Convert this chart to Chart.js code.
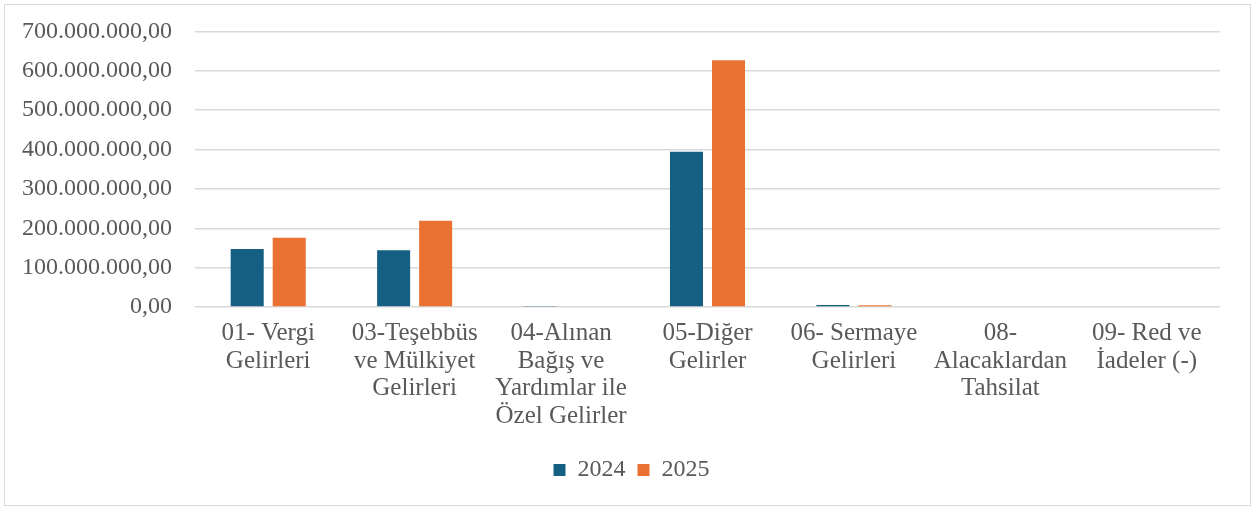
<!DOCTYPE html>
<html>
<head>
<meta charset="utf-8">
<script src="https://cdn.jsdelivr.net/npm/chart.js@4.4.1/dist/chart.umd.min.js"></script>
<style>
  html, body { margin: 0; padding: 0; background: #fff; overflow: hidden; }
  #cerceve {
    position: absolute; left: 4px; top: 4px;
    width: 1245px; height: 500px;
    border: 1px solid #d9d9d9;
  }
  #kutu {
    position: absolute; left: 5px; top: -6px;
    width: 1245px; height: 511px;
  }
</style>
</head>
<body>
<div id="cerceve"></div>
<div id="kutu"><canvas id="grafik"></canvas></div>
<script>
// Kategoriler (satır satır)
const kategoriler = [
  ["01- Vergi", "Gelirleri"],
  ["03-Teşebbüs", "ve Mülkiyet", "Gelirleri"],
  ["04-Alınan", "Bağış ve", "Yardımlar ile", "Özel Gelirler"],
  ["05-Diğer", "Gelirler"],
  ["06- Sermaye", "Gelirleri"],
  ["08-", "Alacaklardan", "Tahsilat"],
  ["09- Red ve", "İadeler (-)"]
];

// Seriler
const yillar = ["2024", "2025"];
const degerler2024 = [147600000, 144000000, 1500000, 394500000, 5000000, 0, 0];
const degerler2025 = [175600000, 219000000, 0, 627000000, 4500000, 0, 0];

// Eksen
const yMaks = 700000000;
const yAdim = 100000000;

// 700000000 -> "700.000.000,00"
function bicimle(v) {
  const tam = Math.round(v).toString().replace(/\B(?=(\d{3})+(?!\d))/g, ".");
  return tam + ",00";
}

const yazi = "'Liberation Serif', 'Times New Roman', serif";
const gri = "#595959";

// legend'i grafiğin ortasına biraz kaydır
const legendKaydir = {
  id: 'legendKaydir',
  afterLayout(chart) {
    chart.legend.left += 19;
    chart.legend.right += 19;
  }
};

new Chart(document.getElementById('grafik'), {
  type: 'bar',
  data: {
    labels: kategoriler,
    datasets: [
      { label: yillar[0], data: degerler2024, backgroundColor: "#156082" },
      { label: yillar[1], data: degerler2025, backgroundColor: "#E97132" }
    ]
  },
  options: {
    responsive: true,
    maintainAspectRatio: false,
    animation: false,
    layout: { padding: { top: 16, right: 30, left: 0, bottom: 13 } },
    datasets: {
      bar: { categoryPercentage: 0.574, barPercentage: 0.786 }
    },
    scales: {
      x: {
        grid: { display: false },
        border: { display: false },
        ticks: {
          color: gri,
          font: { family: yazi, size: 25, lineHeight: 1.1 },
          maxRotation: 0,
          autoSkip: false,
          padding: 5
        },
        afterFit: s => { s.height = 139; }
      },
      y: {
        min: 0,
        max: yMaks,
        border: { display: false },
        grid: { color: "#d9d9d9", lineWidth: 1.5, drawTicks: false },
        ticks: {
          stepSize: yAdim,
          color: gri,
          font: { family: yazi, size: 24 },
          padding: 23,
          callback: v => bicimle(v)
        },
        afterFit: s => { s.width = 190; }
      }
    },
    plugins: {
      tooltip: { enabled: false },
      legend: {
        position: 'bottom',
        labels: {
          color: gri,
          font: { family: yazi, size: 24 },
          boxWidth: 12,
          boxHeight: 12,
          padding: 12
        }
      }
    }
  },
  plugins: [legendKaydir]
});
</script>
</body>
</html>
